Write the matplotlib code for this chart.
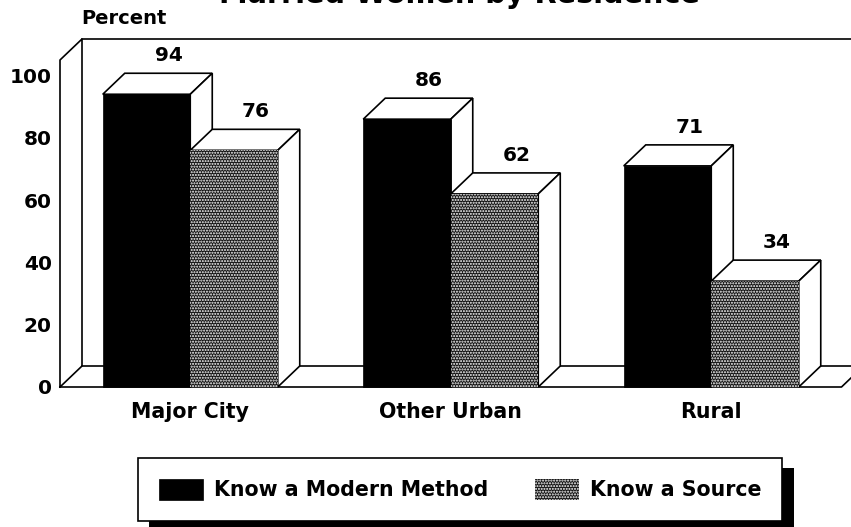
import matplotlib
matplotlib.use("Agg")
import matplotlib.pyplot as plt
from matplotlib.patches import Polygon, Rectangle

categories = ["Major City", "Other Urban", "Rural"]
modern = [94, 86, 71]
source = [76, 62, 34]
series_names = ["Know a Modern Method", "Know a Source"]
yticks = [0, 20, 40, 60, 80, 100]
title = "Married Women by Residence"
ylabel = "Percent"

W, H = 851, 527
plt.rcParams["font.family"] = "DejaVu Sans"
plt.rcParams["font.weight"] = "bold"
plt.rcParams["hatch.linewidth"] = 1.0
FS = 14.8

fig = plt.figure(figsize=(W / 100, H / 100), dpi=100, facecolor="white")
ax = fig.add_axes([60 / W, 1 - 387 / H, 781.5 / W, 327 / H])
ax.set_xlim(-0.5, 2.5)
ax.set_ylim(0, 105)
ax.patch.set_visible(False)
for s in ax.spines.values():
    s.set_visible(False)

DX = 22 / 260.5
DY = 21 / (327 / 105)
BW = 87.5 / 260.5
LW = 1.2

# 3-D frame: left wall, floor, back wall
xl, xr = -0.5, 2.5
frame_kw = dict(color="black", lw=LW, clip_on=False, zorder=1)
ax.plot([xl, xl, xl + DX, xl + DX, xl], [0, 105, 105 + DY, DY, 0], **frame_kw)
ax.plot([xl + DX, 3.0], [105 + DY, 105 + DY], **frame_kw)
ax.plot([xl + DX, 3.0], [DY, DY], **frame_kw)
ax.plot([xl, xr, xr + DX], [0, 0, DY], **frame_kw)


def bar3d(x0, v, front_kw):
    x1 = x0 + BW
    edge = dict(facecolor="white", edgecolor="black", lw=LW, zorder=3, clip_on=False)
    ax.add_patch(Polygon([(x0, v), (x0 + DX, v + DY), (x1 + DX, v + DY), (x1, v)], **edge))
    ax.add_patch(Polygon([(x1, 0), (x1 + DX, DY), (x1 + DX, v + DY), (x1, v)], **edge))
    ax.add_patch(Rectangle((x0, 0), BW, v, zorder=4, clip_on=False, **front_kw))
    ax.text(x0 + BW / 2 + DX, v + DY + 2.6, str(v), ha="center", va="bottom",
            fontsize=14.5, zorder=5)


black_kw = dict(facecolor="black", edgecolor="black", lw=0.5)
dither_kw = dict(facecolor="#141414", edgecolor="white", hatch="......", lw=0)

for i in range(len(categories)):
    bar3d(i - BW, modern[i], black_kw)
    bar3d(i, source[i], dither_kw)

ax.set_yticks(yticks)
ax.set_xticks(range(len(categories)), categories)
ax.tick_params(axis="both", length=0, labelsize=14.5)
ax.tick_params(axis="y", pad=6)
ax.tick_params(axis="x", pad=11)
for lab in ax.get_xticklabels():
    lab.set_fontsize(FS)

ax.set_title(title, x=(459 - 60) / 781.5, pad=41, fontsize=20.7, fontweight="bold")
fig.text(81 / W, 1 - 18 / H, ylabel, ha="left", va="center", fontsize=14)

# legend with drop shadow
fig.patches.append(Rectangle((149 / W, 0), 645 / W, (H - 468) / H, transform=fig.transFigure,
                             facecolor="black", edgecolor="none", zorder=1))
handles = [Rectangle((0, 0), 1, 1, **black_kw), Rectangle((0, 0), 1, 1, **dither_kw)]
fs_px = FS * 100 / 72
leg = fig.legend(handles, series_names, ncol=2, loc="center",
                 bbox_to_anchor=(138 / W, 1 - 522 / H, 644 / W, 65 / H),
                 bbox_transform=fig.transFigure, mode="expand", borderaxespad=0,
                 fontsize=FS, handlelength=44 / fs_px, handleheight=24 / fs_px,
                 handletextpad=11 / fs_px, borderpad=1.0, fancybox=False,
                 framealpha=1, edgecolor="black", columnspacing=1.0)
leg.get_frame().set_linewidth(LW)
leg.set_zorder(5)

fig.savefig("out.png", dpi=100)
